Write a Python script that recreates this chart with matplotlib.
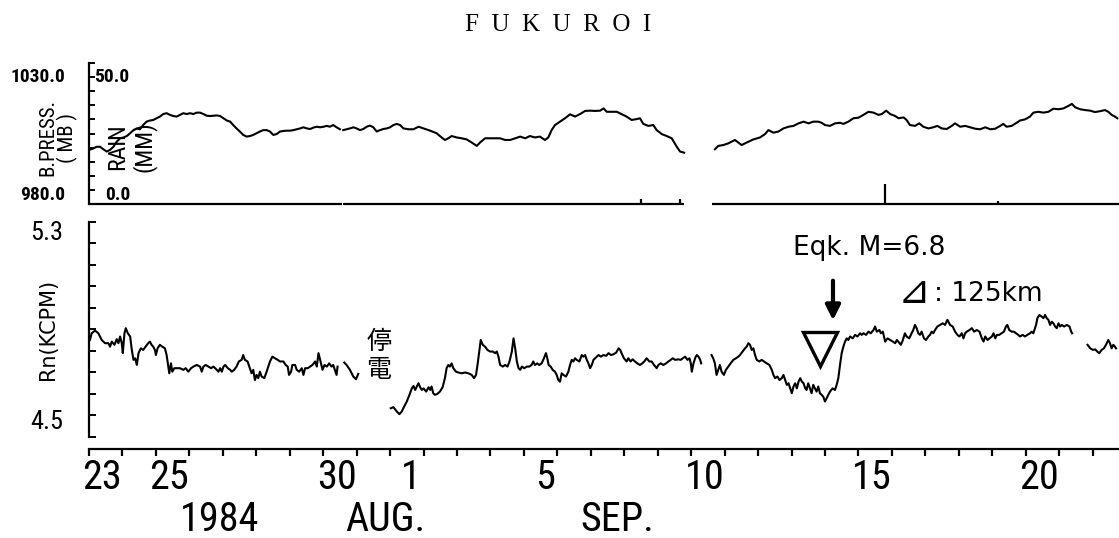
import numpy as np
import matplotlib
matplotlib.use('Agg')
import matplotlib.pyplot as plt
from matplotlib import font_manager

nan = np.nan

# time axis: days counted from 1984 Aug 23 00h
press_day = [0.01, 0.13, 0.23, 0.33, 0.43, 0.53, 0.63, 0.73, 0.83, 0.93,
             1.03, 1.13, 1.23, 1.33, 1.43, 1.52, 1.62, 1.72, 1.82, 1.92,
             2.02, 2.12, 2.22, 2.32, 2.42, 2.52, 2.62, 2.72, 2.82, 2.92,
             3.02, 3.12, 3.22, 3.32, 3.42, 3.52, 3.62, 3.72, 3.82, 3.92,
             4.02, 4.12, 4.22, 4.31, 4.41, 4.51, 4.61, 4.71, 4.81, 4.91,
             5.01, 5.11, 5.21, 5.31, 5.41, 5.51, 5.61, 5.71, 5.81, 5.91,
             6.01, 6.11, 6.21, 6.31, 6.41, 6.51, 6.61, 6.71, 6.81, 6.91,
             7.01, 7.11, 7.20, 7.30, 7.40, 7.50, nan,
             7.60, 7.70, 7.80, 7.90, 8.00, 8.10, 8.20, 8.30, 8.40, 8.50,
             8.60, 8.70, 8.80, 8.90, 9.00, 9.10, 9.20, 9.30,
             9.40, 9.55, 9.70, 9.85, 10.00, 10.20, 10.39, 10.54, 10.64, 10.74,
             10.84, 10.99, 11.14, 11.29, 11.44, 11.59, 11.69, 11.84, 11.99, 12.14,
             12.29, 12.44, 12.59, 12.74, 12.89, 13.04, 13.18, 13.33, 13.48, 13.63,
             13.73, 13.83, 13.93, 14.08, 14.23, 14.38, 14.53, 14.68, 14.83, 14.98,
             15.13, 15.28, 15.38, 15.48, 15.63, 15.78, 15.93, 16.07, 16.22, 16.37,
             16.47, 16.57, 16.72, 16.87, 16.97, 17.12, 17.27, 17.42, 17.57, 17.67,
             17.79, nan,
             18.71, 18.81, 18.96, 19.11, 19.31, 19.41, 19.51, 19.66, 19.86, 20.06,
             20.21, 20.31, 20.46, 20.61, 20.76, 20.91, 21.06, 21.21, 21.36, 21.51,
             21.65, 21.80, 21.90, 22.00, 22.15, 22.30, 22.45, 22.55, 22.70, 22.85,
             23.00, 23.15, 23.30, 23.45, 23.60, 23.70, 23.83, 23.95, 24.10, 24.20,
             24.35, 24.44, 24.54, 24.69, 24.82, 24.94, 25.09, 25.24, 25.36, 25.49,
             25.64, 25.79, 25.89, 26.04, 26.19, 26.34, 26.49, 26.64, 26.79, 26.94,
             27.09, 27.24, 27.33, 27.43, 27.58, 27.73, 27.83, 27.98, 28.13, 28.23,
             28.38, 28.53, 28.68, 28.83, 28.98, 29.13, 29.28, 29.38, 29.48, 29.63,
             29.78, 29.93, 30.07, 30.22, 30.37, 30.47, 30.57, 30.67, 30.74]
press_mb = [999.2, 999.7, 1000.3, 1000.3, 999.4, 998.6, 999.2, 1000.3, 1002.1, 1003.3,
            1003.6, 1004.1, 1005.1, 1006.2, 1006.8, 1006.5, 1008.0, 1009.2, 1009.6, 1009.8,
            1010.4, 1011.0, 1011.9, 1012.2, 1011.6, 1011.2, 1011.0, 1011.6, 1012.2, 1011.9,
            1012.2, 1011.9, 1012.4, 1012.4, 1011.9, 1011.3, 1011.2, 1011.3, 1011.4, 1011.2,
            1010.4, 1009.6, 1009.2, 1008.0, 1006.8, 1005.7, 1004.5, 1003.9, 1004.1, 1004.5,
            1005.1, 1005.7, 1006.2, 1006.2, 1005.7, 1004.5, 1004.8, 1005.7, 1005.9, 1006.0,
            1006.0, 1006.2, 1006.5, 1006.8, 1007.2, 1006.8, 1006.6, 1007.1, 1007.4, 1007.2,
            1007.4, 1007.7, 1007.4, 1008.0, 1007.2, 1006.5, nan,
            1006.2, 1006.5, 1006.8, 1007.2, 1006.8, 1006.2, 1006.6, 1007.4, 1007.8, 1007.2,
            1005.7, 1006.2, 1006.6, 1006.8, 1007.2, 1008.0, 1008.4, 1008.0,
            1006.8, 1006.5, 1006.5, 1007.4, 1006.8, 1006.0, 1005.1, 1003.6, 1002.7, 1003.3,
            1004.1, 1003.6, 1003.3, 1002.9, 1001.8, 1000.6, 1001.8, 1003.3, 1003.3, 1003.3,
            1003.3, 1002.7, 1002.7, 1003.3, 1003.9, 1003.3, 1004.1, 1003.6, 1003.9, 1002.7,
            1003.6, 1006.2, 1008.0, 1009.2, 1010.4, 1011.8, 1011.0, 1011.9, 1013.0, 1013.1,
            1013.0, 1013.1, 1013.9, 1012.7, 1012.7, 1012.7, 1011.8, 1011.0, 1009.8, 1010.1,
            1010.4, 1008.4, 1007.7, 1008.0, 1006.2, 1004.8, 1004.1, 1003.3, 1000.3, 998.6,
            998.2, nan,
            999.4, 1000.6, 1000.9, 1001.5, 1002.7, 1001.8, 1000.9, 1001.8, 1002.9, 1003.6,
            1004.8, 1006.2, 1005.3, 1005.7, 1006.8, 1007.4, 1007.7, 1008.6, 1009.2, 1008.6,
            1009.2, 1009.2, 1008.8, 1008.0, 1007.7, 1008.6, 1008.8, 1008.4, 1009.2, 1010.4,
            1010.6, 1011.6, 1012.7, 1012.4, 1011.6, 1011.9, 1013.1, 1011.9, 1011.2, 1010.4,
            1010.7, 1009.8, 1008.0, 1007.7, 1008.6, 1007.4, 1006.8, 1007.2, 1007.7, 1006.8,
            1006.6, 1007.7, 1008.6, 1007.4, 1007.7, 1007.2, 1006.7, 1006.5, 1007.2, 1006.5,
            1006.7, 1007.7, 1008.4, 1007.4, 1007.7, 1008.8, 1009.6, 1010.0, 1011.0, 1012.4,
            1012.7, 1012.4, 1012.7, 1013.8, 1013.6, 1013.9, 1014.8, 1015.5, 1014.3, 1013.6,
            1013.3, 1013.1, 1012.6, 1012.9, 1013.3, 1012.7, 1011.6, 1011.0, 1010.4]

rain_day = [16.49, 17.67, 22.18, 23.80, 24.35, 24.44, 26.49, 26.76, 27.18, 28.28, 29.38]
rain_mm = [1.8, 1.8, 0.4, 7.1, 0.4, 0.4, 0.3, 0.3, 1.0, 0.3, 0.5]
rain_start = [0.0, 7.60, 18.62]
rain_end = [7.55, 17.79, 30.79]

rn_day = [0.03, 0.08, 0.18, 0.28, 0.38, 0.48, 0.58, 0.63, 0.68, 0.76,
          0.83, 0.88, 0.93, 0.98, 1.01, 1.06, 1.10, 1.16, 1.23, 1.28,
          1.33, 1.38, 1.43, 1.48, 1.55, 1.62, 1.69, 1.77, 1.82, 1.87,
          1.92, 1.97, 2.00, 2.05, 2.12, 2.19, 2.27, 2.32, 2.37, 2.40,
          2.45, 2.49, 2.55, 2.62, 2.72, 2.82, 2.89, 2.97, 3.05, 3.12,
          3.22, 3.32, 3.37, 3.42, 3.49, 3.57, 3.65, 3.72, 3.77, 3.82,
          3.87, 3.92, 3.97, 4.02, 4.07, 4.15, 4.22, 4.27, 4.34, 4.41,
          4.48, 4.56, 4.61, 4.66, 4.74, 4.81, 4.86, 4.91, 4.96, 5.01,
          5.06, 5.11, 5.16, 5.24, 5.31, 5.36, 5.41, 5.48, 5.56, 5.64,
          5.71, 5.81, 5.88, 5.94, 5.98, 6.04, 6.08, 6.16, 6.21, 6.28,
          6.36, 6.41, 6.46, 6.54, 6.61, 6.68, 6.76, 6.81, 6.86, 6.91,
          6.98, 7.04, 7.11, 7.18, 7.25, 7.30, 7.35, 7.40, 7.43, nan,
          7.63, 7.70, 7.80, 7.90, 7.98, 8.05, nan,
          9.02, 9.10, 9.20, 9.28, 9.35, 9.42, 9.50, 9.58, 9.65, 9.70,
          9.75, 9.80, 9.85, 9.90, 9.95, 10.00, 10.08, 10.15, 10.20, 10.24,
          10.29, 10.34, 10.41, 10.49, 10.57, 10.64, 10.69, 10.74, 10.79, 10.84,
          10.89, 10.97, 11.04, 11.14, 11.24, 11.34, 11.44, 11.51, 11.57, 11.62,
          11.67, 11.71, 11.77, 11.84, 11.91, 11.99, 12.07, 12.14, 12.19, 12.24,
          12.29, 12.37, 12.44, 12.51, 12.57, 12.64, 12.69, 12.74, 12.79, 12.84,
          12.89, 12.94, 13.01, 13.09, 13.16, 13.23, 13.28, 13.33, 13.40, 13.46,
          13.53, 13.60, 13.66, 13.70, 13.74, 13.80, 13.86, 13.93, 13.98, 14.03,
          14.08, 14.13, 14.18, 14.26, 14.33, 14.38, 14.43, 14.48, 14.53, 14.58,
          14.66, 14.73, 14.78, 14.83, 14.88, 14.93, 14.98, 15.03, 15.08, 15.13,
          15.18, 15.23, 15.30, 15.38, 15.46, 15.53, 15.60, 15.68, 15.76, 15.83,
          15.88, 15.92, 15.99, 16.07, 16.12, 16.19, 16.25, 16.32, 16.39, 16.47,
          16.54, 16.60, 16.67, 16.75, 16.82, 16.89, 16.97, 17.02, 17.09, 17.17,
          17.25, 17.32, 17.39, 17.45, 17.52, 17.62, 17.69, 17.75, 17.82, 17.89,
          17.95, 17.99, 18.02, 18.07, 18.13, 18.17, 18.22, 18.27, 18.30, nan,
          18.61, 18.66, 18.71, 18.76, 18.81, 18.86, 18.91, 18.98, 19.04, 19.11,
          19.18, 19.26, 19.34, 19.41, 19.46, 19.54, 19.61, 19.66, 19.71, 19.76,
          19.81, 19.86, 19.91, 19.96, 20.04, 20.11, 20.18, 20.26, 20.34, 20.41,
          20.46, 20.51, 20.58, 20.64, 20.71, 20.76, 20.81, 20.86, 20.91, 20.96,
          21.01, 21.06, 21.11, 21.16, 21.21, 21.26, 21.31, 21.36, 21.41, 21.45,
          21.50, 21.55, 21.60, 21.65, 21.70, 21.75, 21.80, 21.85, 21.90, 21.95,
          22.00, 22.05, 22.10, 22.15, 22.23, 22.30, 22.35, 22.40, 22.45, 22.50,
          22.55, 22.60, 22.65, 22.70, 22.75, 22.83, 22.90, 22.97, 23.05, 23.10,
          23.15, 23.23, 23.30, 23.37, 23.45, 23.50, 23.55, 23.63, 23.67, 23.73,
          23.80, 23.87, 23.95, 24.03, 24.10, 24.15, 24.23, 24.27, 24.33, 24.39,
          24.44, 24.52, 24.59, 24.64, 24.69, 24.74, 24.79, 24.84, 24.89, 24.96,
          25.02, 25.09, 25.14, 25.19, 25.24, 25.29, 25.36, 25.44, 25.52, 25.59,
          25.66, 25.74, 25.82, 25.89, 25.96, 26.02, 26.09, 26.14, 26.19, 26.24,
          26.32, 26.39, 26.46, 26.54, 26.62, 26.69, 26.74, 26.79, 26.86, 26.92,
          26.99, 27.04, 27.09, 27.14, 27.21, 27.28, 27.35, 27.41, 27.45, 27.51,
          27.58, 27.65, 27.71, 27.78, 27.83, 27.91, 27.98, 28.05, 28.13, 28.18,
          28.23, 28.31, 28.35, 28.41, 28.48, 28.53, 28.58, 28.63, 28.68, 28.73,
          28.78, 28.83, 28.88, 28.93, 28.98, 29.03, 29.08, 29.15, 29.23, 29.31,
          29.36, 29.39, nan,
          29.85, 29.93, 30.01, 30.08, 30.14, 30.20, 30.27, 30.34, 30.40, 30.47,
          30.52, 30.57, 30.62, 30.67, 30.70]
rn_kcpm = [4.861, 4.886, 4.896, 4.886, 4.861, 4.849, 4.849, 4.836, 4.855, 4.843,
           4.864, 4.849, 4.874, 4.849, 4.812, 4.886, 4.905, 4.886, 4.874, 4.824,
           4.787, 4.793, 4.768, 4.812, 4.830, 4.824, 4.836, 4.849, 4.855, 4.843,
           4.836, 4.824, 4.805, 4.830, 4.843, 4.836, 4.830, 4.805, 4.762, 4.737,
           4.774, 4.743, 4.756, 4.756, 4.756, 4.750, 4.756, 4.743, 4.756, 4.762,
           4.768, 4.762, 4.743, 4.762, 4.768, 4.762, 4.756, 4.762, 4.756, 4.750,
           4.743, 4.756, 4.743, 4.762, 4.768, 4.756, 4.750, 4.743, 4.750, 4.762,
           4.781, 4.787, 4.805, 4.787, 4.781, 4.756, 4.737, 4.750, 4.712, 4.731,
           4.719, 4.743, 4.725, 4.719, 4.743, 4.762, 4.781, 4.799, 4.793, 4.787,
           4.781, 4.781, 4.768, 4.762, 4.731, 4.743, 4.768, 4.768, 4.750, 4.743,
           4.756, 4.731, 4.756, 4.756, 4.762, 4.768, 4.781, 4.762, 4.812, 4.787,
           4.750, 4.768, 4.762, 4.774, 4.762, 4.768, 4.750, 4.731, 4.762, nan,
           4.777, 4.768, 4.750, 4.725, 4.715, 4.735, nan,
           4.607, 4.611, 4.595, 4.585, 4.595, 4.613, 4.632, 4.657, 4.681, 4.690,
           4.675, 4.688, 4.700, 4.685, 4.675, 4.681, 4.669, 4.685, 4.675, 4.688,
           4.663, 4.657, 4.660, 4.669, 4.685, 4.719, 4.756, 4.768, 4.762, 4.774,
           4.756, 4.743, 4.740, 4.737, 4.740, 4.737, 4.731, 4.719, 4.731, 4.774,
           4.824, 4.861, 4.843, 4.836, 4.824, 4.818, 4.818, 4.812, 4.818, 4.799,
           4.768, 4.762, 4.768, 4.762, 4.781, 4.818, 4.867, 4.830, 4.781, 4.756,
           4.750, 4.762, 4.756, 4.762, 4.762, 4.768, 4.781, 4.768, 4.774, 4.768,
           4.774, 4.793, 4.812, 4.793, 4.768, 4.762, 4.750, 4.743, 4.731, 4.712,
           4.706, 4.737, 4.731, 4.725, 4.743, 4.768, 4.787, 4.781, 4.793, 4.787,
           4.781, 4.805, 4.799, 4.805, 4.787, 4.774, 4.756, 4.768, 4.787, 4.793,
           4.799, 4.805, 4.799, 4.805, 4.802, 4.812, 4.805, 4.808, 4.814, 4.830,
           4.824, 4.812, 4.793, 4.781, 4.793, 4.781, 4.789, 4.781, 4.774, 4.768,
           4.774, 4.781, 4.793, 4.781, 4.781, 4.768, 4.756, 4.768, 4.774, 4.768,
           4.774, 4.781, 4.787, 4.793, 4.787, 4.789, 4.787, 4.793, 4.799, 4.787,
           4.793, 4.774, 4.743, 4.774, 4.797, 4.805, 4.799, 4.787, 4.774, nan,
           4.805, 4.793, 4.774, 4.731, 4.750, 4.768, 4.743, 4.731, 4.750, 4.762,
           4.774, 4.787, 4.793, 4.799, 4.805, 4.818, 4.830, 4.836, 4.849, 4.843,
           4.824, 4.830, 4.805, 4.787, 4.781, 4.787, 4.781, 4.774, 4.768, 4.750,
           4.731, 4.719, 4.725, 4.712, 4.719, 4.731, 4.712, 4.694, 4.700, 4.681,
           4.663, 4.688, 4.700, 4.681, 4.706, 4.719, 4.706, 4.700, 4.681, 4.675,
           4.700, 4.681, 4.663, 4.694, 4.681, 4.669, 4.688, 4.663, 4.657, 4.650,
           4.632, 4.644, 4.657, 4.669, 4.681, 4.675, 4.694, 4.719, 4.768, 4.812,
           4.836, 4.855, 4.867, 4.861, 4.874, 4.867, 4.880, 4.874, 4.886, 4.880,
           4.886, 4.880, 4.892, 4.886, 4.898, 4.911, 4.892, 4.898, 4.886, 4.892,
           4.855, 4.867, 4.861, 4.855, 4.849, 4.861, 4.849, 4.843, 4.861, 4.886,
           4.874, 4.867, 4.886, 4.898, 4.917, 4.905, 4.886, 4.880, 4.892, 4.867,
           4.861, 4.874, 4.880, 4.892, 4.886, 4.898, 4.911, 4.917, 4.923, 4.917,
           4.936, 4.917, 4.911, 4.892, 4.880, 4.874, 4.886, 4.867, 4.886, 4.892,
           4.898, 4.905, 4.892, 4.898, 4.892, 4.867, 4.855, 4.874, 4.861, 4.867,
           4.874, 4.886, 4.867, 4.880, 4.880, 4.886, 4.892, 4.911, 4.917, 4.898,
           4.892, 4.892, 4.886, 4.880, 4.874, 4.880, 4.874, 4.880, 4.886, 4.892,
           4.886, 4.917, 4.942, 4.954, 4.948, 4.942, 4.954, 4.942, 4.936, 4.917,
           4.929, 4.923, 4.911, 4.905, 4.923, 4.911, 4.917, 4.911, 4.917, 4.911,
           4.892, 4.886, nan,
           4.843, 4.830, 4.824, 4.826, 4.818, 4.812, 4.824, 4.830, 4.843, 4.861,
           4.849, 4.830, 4.843, 4.836, 4.830]

tick_day = [0, 2, 7, 9, 13, 18, 23, 28]
tick_text = ['23', '25', '30', '1', '5', '10', '15', '20']
month_day = [3.9, 8.85, 15.8]
month_text = ['1984', 'AUG.', 'SEP.']

eqk_day = 22.24        # arrow
drop_day = 21.85       # open triangle

# condensed face for the plotter lettering, if one is installed
names = {f.name for f in font_manager.fontManager.ttflist}
narrow = 'DejaVu Sans'
for cand in ['Liberation Sans Narrow', 'Roboto Condensed', 'Open Sans Condensed', 'DejaVu Sans Condensed']:
    if cand in names:
        narrow = cand
        break

fig = plt.figure(figsize=(11.19, 5.38), dpi=100)
W, H = 1119.0, 538.0
x0, x1 = 89, 1119
ax1 = fig.add_axes([x0 / W, 1 - 204 / H, (x1 - x0) / W, 141 / H])
ax2 = fig.add_axes([x0 / W, 1 - 437 / H, (x1 - x0) / W, 215 / H])
xmax = 30.79

# ---- top panel: pressure + rain
ax1.set_xlim(0, xmax)
ax1.set_ylim(0, 50)
for s in ['top', 'right', 'bottom']:
    ax1.spines[s].set_visible(False)
ax1.spines['left'].set_linewidth(1.6)
ax1.set_yticks(np.arange(0, 51, 5))
ax1.set_xticks([])
ax1.tick_params(axis='y', direction='in', length=4, width=1.4, labelleft=False)
ax1.hlines([0] * len(rain_start), rain_start, rain_end, color='k', lw=1.6, clip_on=False)
ax1.vlines(rain_day, 0, rain_mm, color='k', lw=1.6)

axp = ax1.twinx()
axp.set_ylim(980, 1030)
axp.set_xlim(0, xmax)
axp.axis('off')
axp.plot(press_day, press_mb, color='k', lw=1.5)

ax1.text(-0.023, 0.90, '1030.0', transform=ax1.transAxes, ha='right', va='center',
         family=narrow, fontsize=14, fontweight='bold')
ax1.text(-0.023, 0.064, '980.0', transform=ax1.transAxes, ha='right', va='center',
         family=narrow, fontsize=14, fontweight='bold')
ax1.text(0.005, 0.90, '50.0', transform=ax1.transAxes, ha='left', va='center',
         family=narrow, fontsize=14, fontweight='bold')
ax1.text(0.040, 0.064, '0.0', transform=ax1.transAxes, ha='right', va='center',
         family=narrow, fontsize=14, fontweight='bold')
ax1.text(-0.030, 0.47, 'B.PRESS.\n( MB )', transform=ax1.transAxes, rotation=90,
         ha='center', va='center', multialignment='center', family=narrow, fontsize=15,
         linespacing=0.95)
ax1.text(0.041, 0.41, 'RAIN\n(MM)', transform=ax1.transAxes, rotation=90,
         ha='center', va='center', multialignment='center', family=narrow, fontsize=17,
         linespacing=1.15)

# ---- bottom panel: radon
ax2.set_xlim(0, xmax)
ax2.set_ylim(4.5, 5.3)
ax2.spines['top'].set_visible(False)
ax2.spines['right'].set_visible(False)
ax2.spines['left'].set_linewidth(1.6)
ax2.spines['bottom'].set_linewidth(1.6)
ax2.spines['bottom'].set_position(('outward', 8.6))
ax2.set_yticks(np.arange(4.5, 5.31, 0.08))
ax2.set_xticks(np.arange(0, 31))
ax2.tick_params(axis='y', direction='in', length=5, width=1.4, labelleft=False)
ax2.tick_params(axis='x', direction='out', length=5, width=1.6, labelbottom=False)
ax2.plot(rn_day, rn_kcpm, color='k', lw=1.5)

ax2.text(-0.025, 0.95, '5.3', transform=ax2.transAxes, ha='right', va='center',
         family=narrow, fontsize=19)
ax2.text(-0.025, 0.07, '4.5', transform=ax2.transAxes, ha='right', va='center',
         family=narrow, fontsize=19)
ax2.text(-0.040, 0.50, 'Rn(KCPM)', transform=ax2.transAxes, rotation=90,
         ha='center', va='center', fontsize=15)

xt = ax2.get_xaxis_transform()
for d, t in zip(tick_day, tick_text):
    off = 0.40 if len(t) == 2 else 0.63
    ax2.text(d + off, -0.19, t, transform=xt, ha='center', va='center',
             family=narrow, fontsize=29)
for d, t in zip(month_day, month_text):
    ax2.text(d, -0.385, t, transform=xt, ha='center', va='center',
             family=narrow, fontsize=29)

# annotations
ax2.text(8.67, 4.80, '停\n電', ha='center', va='center', fontsize=18,
         family=['Noto Sans CJK JP', 'DejaVu Sans'], linespacing=1.1)
ax2.text(21.05, 5.203, 'Eqk. M=6.8', ha='left', va='center', fontsize=19)
ax2.annotate('', xy=(eqk_day, 4.924), xytext=(eqk_day, 5.092),
             arrowprops=dict(arrowstyle='-|>', color='k', lw=3, mutation_scale=22))
ax2.plot([drop_day], [4.829], marker='v', ms=25, mfc='none', mec='k', mew=2.4)
ax2.text(24.66, 5.040, '⊿', ha='center', va='center', fontsize=28,
         family=['DejaVu Sans', 'Noto Sans CJK JP'])
ax2.text(25.25, 5.032, ': 125km', ha='left', va='center', fontsize=19)

fig.text(0.4987, 0.953, 'F  U  K  U  R  O  I', ha='center', va='center',
         family='Liberation Serif', fontsize=18)

fig.savefig('out.png', dpi=100, facecolor='white')
